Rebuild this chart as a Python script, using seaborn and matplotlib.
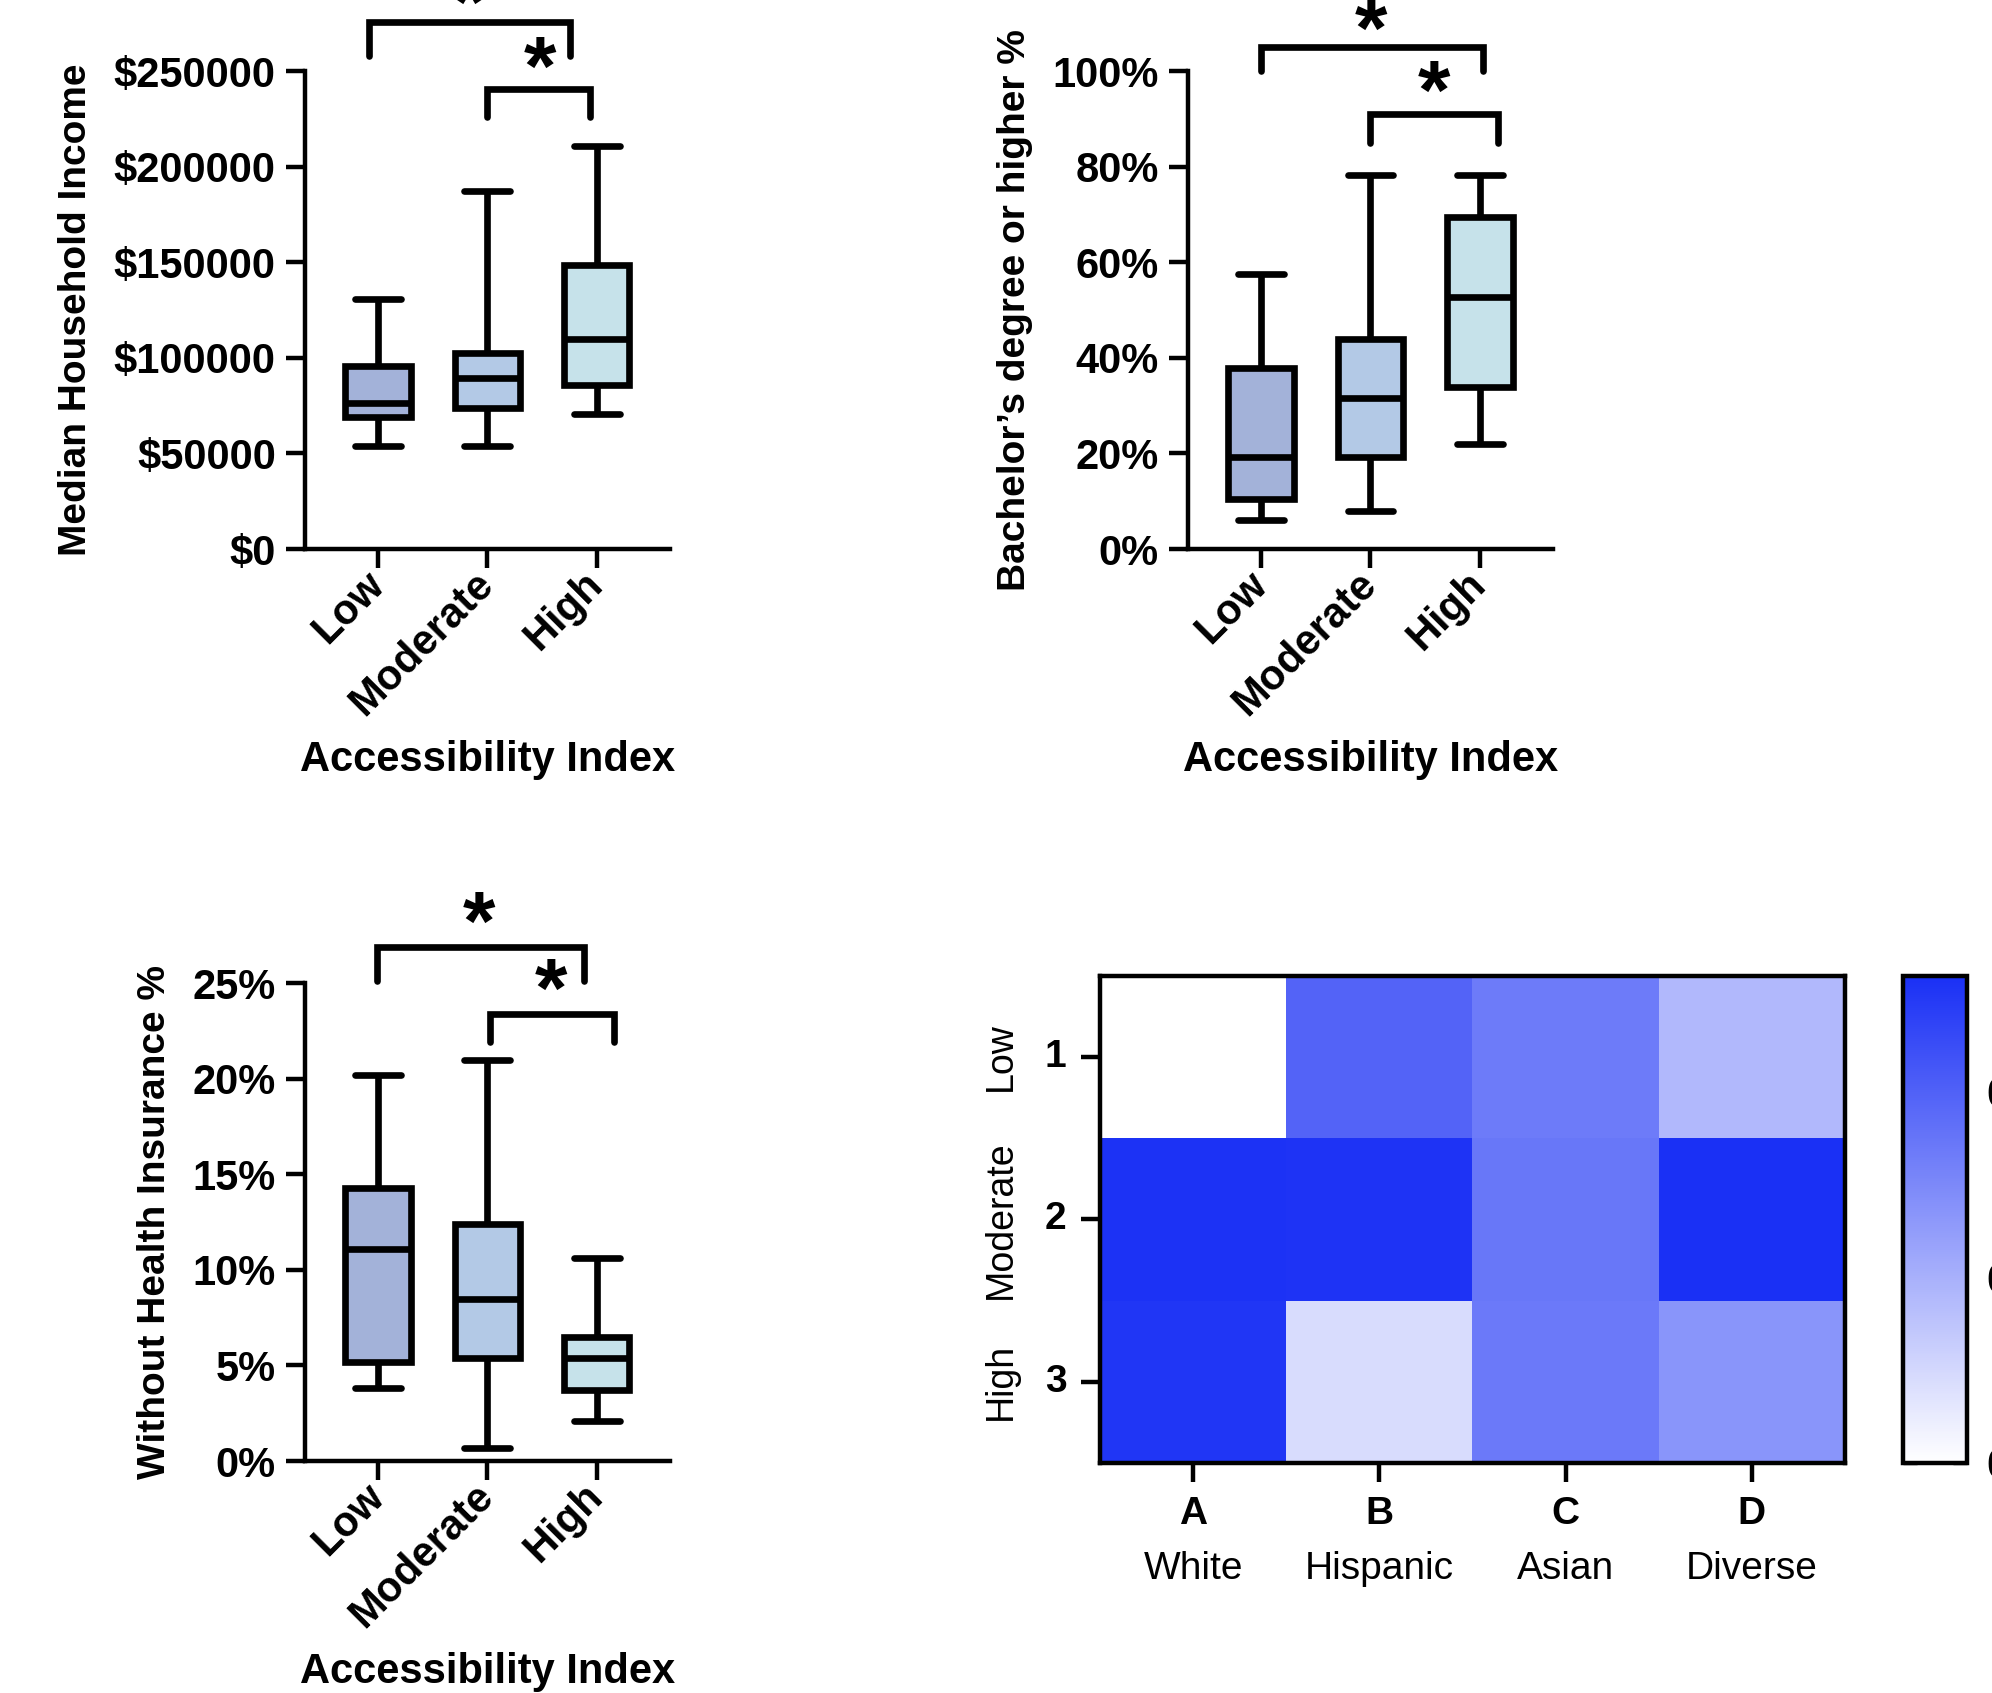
import numpy as np
import pandas as pd
import matplotlib.pyplot as plt
import seaborn as sns
from matplotlib.colors import LinearSegmentedColormap
from matplotlib.ticker import FuncFormatter
import matplotlib.transforms as mtransforms

# ── Values ──────────────────────────────────────────────────────────────────
# five-number summaries per group: min, Q1, median, Q3, max
groups = ["Low", "Moderate", "High"]
box_colors = ["#9aaee2", "#aac8ee", "#c0e6f0"]

income_low = [54000, 69000, 76500, 95800, 130800]
income_mod = [54000, 74000, 89500, 102400, 187300]
income_high = [70500, 85900, 109800, 148400, 210700]

bach_low = [6.0, 10.4, 19.2, 37.9, 57.5]
bach_mod = [8.0, 19.2, 31.5, 43.9, 78.3]
bach_high = [22.0, 33.9, 52.7, 69.5, 78.3]

unins_low = [3.8, 5.2, 11.1, 14.3, 20.2]
unins_mod = [0.7, 5.4, 8.5, 12.4, 21.0]
unins_high = [2.1, 3.7, 5.4, 6.5, 10.6]

# significance brackets: (x start, x end, top, leg bottom, star x, star y)
income_sig = [(-0.08, 1.76, 275500, 258000, 0.83, 290000),
              (1.0, 1.94, 240700, 226000, 1.48, 256500)]
bach_sig = [(0.0, 2.03, 105.0, 100.0, 1.0, 110.5),
            (1.0, 2.17, 91.0, 85.0, 1.58, 97.5)]
unins_sig = [(-0.01, 1.88, 26.9, 25.1, 0.92, 28.6),
             (1.02, 2.16, 23.4, 21.9, 1.58, 25.1)]

heat_rows = ["1", "2", "3"]
heat_row_names = ["Low", "Moderate", "High"]
heat_cols = ["A", "B", "C", "D"]
heat_col_names = ["White", "Hispanic", "Asian", "Diverse"]
heat_low = [0.0, 0.79, 0.67, 0.36]
heat_mod = [1.04, 1.03, 0.69, 1.05]
heat_high = [1.02, 0.18, 0.68, 0.54]
cbar_ticks = [0.0, 0.4, 0.8]
cbar_labels = ["0.0", "0.4", "0.8"]

# ── Style ───────────────────────────────────────────────────────────────────
sns.set_style("ticks")
plt.rcParams["font.family"] = ["Liberation Sans", "DejaVu Sans"]
plt.rcParams["font.weight"] = "bold"
plt.rcParams["axes.labelweight"] = "bold"
for key in ["text.color", "axes.labelcolor", "xtick.color", "ytick.color",
            "axes.edgecolor"]:
    plt.rcParams[key] = "black"

LW = 2.4
fig = plt.figure(figsize=(9.96, 8.465), dpi=200)


def box_panel(ax, lo, mid, hi, ylim, yticks, fmt, ylabel, sig):
    df = pd.DataFrame({"group": np.repeat(groups, 5),
                       "value": np.concatenate([lo, mid, hi])})
    sns.boxplot(data=df, x="group", y="value", hue="group", order=groups,
                hue_order=groups, palette=box_colors, whis=(0, 100), width=0.6,
                linecolor="black", linewidth=LW, showfliers=False, legend=False,
                capwidths=0.42, ax=ax)
    ax.set_xlim(-0.67, 2.67)
    ax.set_ylim(*ylim)
    ax.set_yticks(yticks)
    ax.yaxis.set_major_formatter(FuncFormatter(fmt))
    sns.despine(ax=ax)
    for s in ["left", "bottom"]:
        ax.spines[s].set_linewidth(1.6)
    ax.tick_params(length=7, width=1.6, labelsize=15)
    ax.set_xticks(range(3))
    ax.set_xticklabels(groups, rotation=45, ha="right", va="center",
                       rotation_mode="anchor", fontsize=15)
    ax.set_ylabel(ylabel, fontsize=14, labelpad=7)
    ax.set_xlabel("Accessibility Index", fontsize=15, labelpad=6)

    star_tr = mtransforms.offset_copy(ax.transData, fig=fig, y=-5, units="points")
    for x1, x2, top, bot, sx, sy in sig:
        ax.plot([x1, x1, x2, x2], [bot, top, top, bot], color="black", lw=LW,
                clip_on=False, solid_joinstyle="miter")
        ax.text(sx, sy, "*", ha="center", va="center", fontsize=30,
                fontweight="bold", clip_on=False, transform=star_tr)


ax1 = fig.add_axes([0.1531, 0.6757, 0.1832, 0.2823])
box_panel(ax1, income_low, income_mod, income_high, (0, 250000),
          range(0, 250001, 50000), lambda v, p: f"${v:.0f}",
          "Median Household Income", income_sig)

ax2 = fig.add_axes([0.5964, 0.6757, 0.1832, 0.2823])
box_panel(ax2, bach_low, bach_mod, bach_high, (0, 100), range(0, 101, 20),
          lambda v, p: f"{v:.0f}%", "Bachelor\u2019s degree or higher %", bach_sig)

ax3 = fig.add_axes([0.1531, 0.137, 0.1832, 0.2823])
box_panel(ax3, unins_low, unins_mod, unins_high, (0, 25), range(0, 26, 5),
          lambda v, p: f"{v:.0f}%", "Without Health Insurance %", unins_sig)

# ── Heatmap ─────────────────────────────────────────────────────────────────
axh = fig.add_axes([0.5522, 0.1359, 0.374, 0.2877])
axc = fig.add_axes([0.9553, 0.1359, 0.0321, 0.2877])
heat_df = pd.DataFrame([heat_low, heat_mod, heat_high], index=heat_rows,
                       columns=heat_cols)
cmap = LinearSegmentedColormap.from_list("white_blue", ["#ffffff", "#1a30f5"])
sns.heatmap(heat_df, cmap=cmap, vmin=0, vmax=1.05, ax=axh, cbar_ax=axc,
            cbar_kws={"ticks": cbar_ticks})

for s in axh.spines.values():
    s.set_visible(True)
    s.set_linewidth(1.6)
axh.tick_params(length=7, width=1.6, labelsize=14, pad=5)
axh.set_yticklabels(heat_rows, rotation=0, fontweight="bold")
axh.set_xticklabels(heat_cols, fontweight="bold")
axh.set_xlabel("")
axh.set_ylabel("")

row_tr = mtransforms.blended_transform_factory(axh.transAxes, axh.transData)
for i, name in enumerate(heat_row_names):
    axh.text(-0.133, i + 0.5, name, rotation=90, ha="center", va="center",
             fontsize=13.5, fontweight="normal", transform=row_tr)
col_tr = mtransforms.blended_transform_factory(axh.transData, axh.transAxes)
for j, name in enumerate(heat_col_names):
    axh.text(j + 0.5, -0.217, name, ha="center", va="center", fontsize=14,
             fontweight="normal", transform=col_tr)

cb = axh.collections[0].colorbar
cb.outline.set_visible(True)
cb.outline.set_linewidth(1.6)
cb.outline.set_edgecolor("black")
axc.set_yticks(cbar_ticks)
axc.set_yticklabels(cbar_labels)
axc.tick_params(direction="in", left=True, right=True, length=5, width=1.2,
                labelsize=15, pad=7)

fig.savefig("out.png", dpi=200)
